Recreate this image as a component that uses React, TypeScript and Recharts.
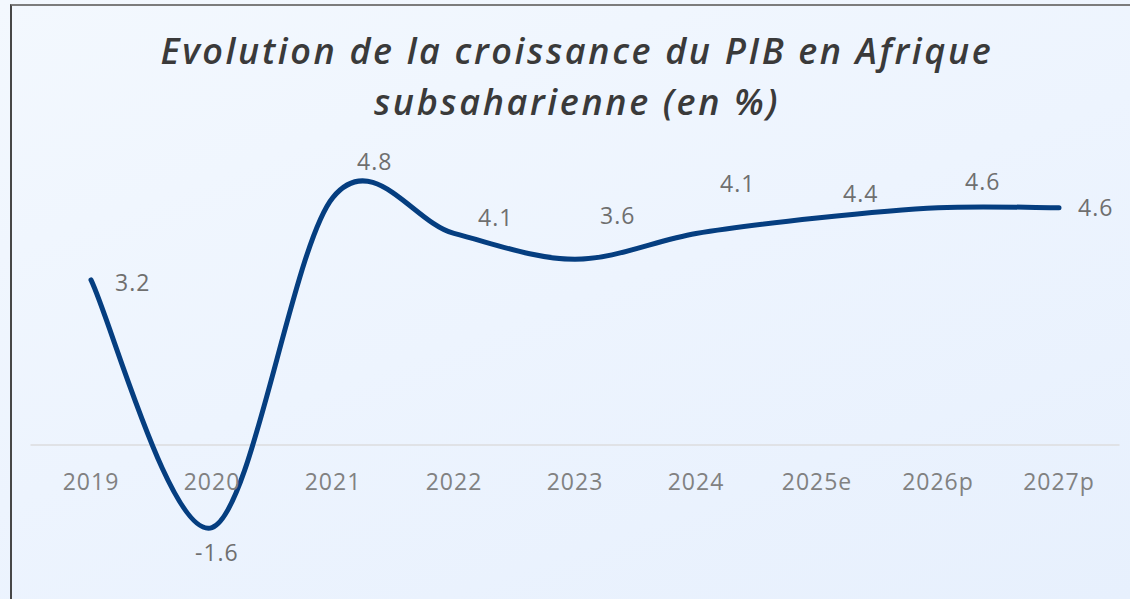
import React from 'react';
import { LineChart, Line, XAxis, YAxis, ReferenceLine, LabelList } from 'recharts';

const years = ['2019', '2020', '2021', '2022', '2023', '2024', '2025e', '2026p', '2027p'];
const growth = [3.2, -1.6, 4.8, 4.1, 3.6, 4.1, 4.4, 4.6, 4.6];
const yDomain: [number, number] = [-2, 6];

// hand-placed label nudges (dx, dy from the point), like in the source slide
const labelNudge: [number, number][] = [
  [24, 3], [-17, 25], [24, -35], [24, -15], [25, -43], [24, -49], [26, -24], [27, -26], [19, 0],
];

const data = years.map((year, i) => ({ year, value: growth[i] }));

const W = 1130;
const H = 599;
const margin = { top: 135.4, right: 10.5, bottom: 20.8, left: 30.5 };
const xAxisHeight = 30;
const plotH = H - margin.top - margin.bottom - xAxisHeight;
const zeroY = margin.top + (plotH * yDomain[1]) / (yDomain[1] - yDomain[0]);
const halfBand = (W - margin.left - margin.right) / years.length / 2;

// Excel-like smoothed line (uniform Catmull-Rom through the points)
function smoothCurve(context: any) {
  let pts: [number, number][] = [];
  return {
    areaStart() {},
    areaEnd() {},
    lineStart() {
      pts = [];
    },
    point(x: number, y: number) {
      pts.push([+x, +y]);
    },
    lineEnd() {
      if (!pts.length) return;
      context.moveTo(pts[0][0], pts[0][1]);
      for (let i = 0; i < pts.length - 1; i++) {
        const p0 = pts[i - 1] || pts[i];
        const p1 = pts[i];
        const p2 = pts[i + 1];
        const p3 = pts[i + 2] || p2;
        context.bezierCurveTo(
          p1[0] + (p2[0] - p0[0]) / 6,
          p1[1] + (p2[1] - p0[1]) / 6,
          p2[0] - (p3[0] - p1[0]) / 6,
          p2[1] - (p3[1] - p1[1]) / 6,
          p2[0],
          p2[1]
        );
      }
    },
  };
}

const fontFamily = '"Open Sans", "DejaVu Sans", sans-serif';

function YearTick(props: any) {
  const { x, payload } = props;
  return (
    <text
      x={x}
      y={zeroY + 45}
      textAnchor="middle"
      fill="#818181"
      fontSize={23}
      letterSpacing={1}
      fontFamily={fontFamily}
    >
      {payload.value}
    </text>
  );
}

function ValueLabel(props: any) {
  const { x, y, value, index } = props;
  const [dx, dy] = labelNudge[index] || [24, 0];
  return (
    <text
      x={x + dx}
      y={y + dy + 8}
      textAnchor="start"
      fill="#6f6f6f"
      fontSize={23}
      letterSpacing={1}
      fontFamily={fontFamily}
    >
      {value}
    </text>
  );
}

export default function App() {
  return (
    <div
      style={{
        position: 'fixed',
        left: 0,
        top: 0,
        width: W,
        height: H,
        overflow: 'hidden',
        background: 'linear-gradient(160deg, #f3f8fe 0%, #edf4fe 50%, #e7f0fd 100%)',
      }}
    >
      <div
        style={{
          position: 'absolute',
          left: 10,
          top: 4,
          width: 1300,
          height: 800,
          borderLeft: '2px solid #474747',
          borderTop: '2px solid #7c7c7c',
        }}
      />
      <div
        style={{
          position: 'absolute',
          left: 0,
          top: 25,
          width: 1154,
          textAlign: 'center',
          fontFamily,
          fontStyle: 'italic',
          fontWeight: 600,
          fontSize: 36,
          lineHeight: '51px',
          color: '#3a3a3a',
          letterSpacing: 2.6,
        }}
      >
        <div>Evolution de la croissance du PIB en Afrique</div>
        <div>subsaharienne (en %)</div>
      </div>
      <div style={{ position: 'absolute', left: 0, top: 0 }}>
        <LineChart width={W} height={H} data={data} margin={margin}>
          <XAxis
            dataKey="year"
            height={xAxisHeight}
            axisLine={false}
            tickLine={false}
            interval={0}
            padding={{ left: halfBand, right: halfBand }}
            tick={<YearTick />}
          />
          <YAxis hide domain={yDomain} />
          <ReferenceLine y={0} stroke="#e0e2e6" strokeWidth={2} />
          <Line
            type={smoothCurve as any}
            dataKey="value"
            stroke="#053e80"
            strokeWidth={5}
            strokeLinecap="round"
            dot={false}
            activeDot={false}
            isAnimationActive={false}
          >
            <LabelList dataKey="value" content={<ValueLabel />} />
          </Line>
        </LineChart>
      </div>
    </div>
  );
}
